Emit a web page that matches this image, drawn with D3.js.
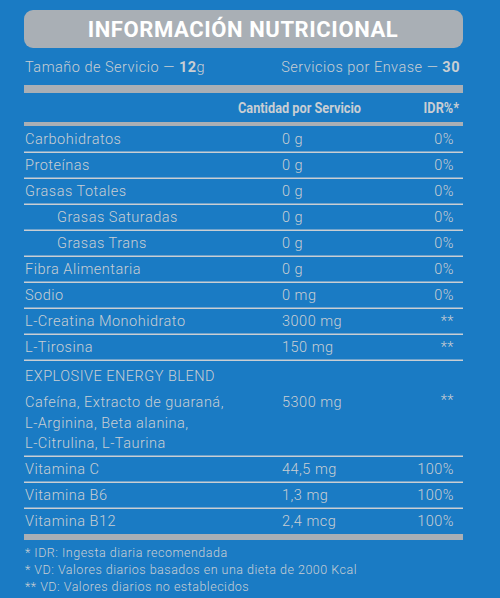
<!DOCTYPE html><html><head><meta charset="utf-8">
<script src="https://d3js.org/d3.v7.min.js"></script>
<style>body{margin:0;background:#1a7bc4}</style></head><body>
<script>
const names=["Carbohidratos","Proteínas","Grasas Totales","Grasas Saturadas","Grasas Trans","Fibra Alimentaria","Sodio","L-Creatina Monohidrato","L-Tirosina"];
const indent=[0,0,0,1,1,0,0,0,0];
const amounts=["0 g","0 g","0 g","0 g","0 g","0 g","0 mg","3000 mg","150 mg"];
const idr=["0%","0%","0%","0%","0%","0%","0%","**","**"];
const blendLines=["Cafeína, Extracto de guaraná,","L-Arginina, Beta alanina,","L-Citrulina, L-Taurina"];
const blendAmount="5300 mg", blendIdr="**";
const vitNames=["Vitamina C","Vitamina B6","Vitamina B12"];
const vitAmounts=["44,5 mg","1,3 mg","2,4 mcg"];
const vitIdr=["100%","100%","100%"];
const notes=["* IDR: Ingesta diaria recomendada","* VD: Valores diarios basados en una dieta de 2000 Kcal","** VD: Valores diarios no establecidos"];

const W=500,H=598,fg="#c9ced3",gr="#a9afb5",F="Roboto, 'DejaVu Sans', sans-serif";
const svg=d3.select("body").append("svg").attr("width",W).attr("height",H);
svg.append("rect").attr("width",W).attr("height",H).attr("fill","#1a7bc4");
svg.append("rect").attr("x",24).attr("y",10).attr("width",439).attr("height",38).attr("rx",9).attr("fill",gr);
svg.append("text").attr("x",243).attr("y",37).attr("text-anchor","middle").attr("fill","#fff")
 .attr("font-family",F).attr("font-weight","bold").attr("font-size",22).attr("letter-spacing",0.6).text("INFORMACIÓN NUTRICIONAL");
const t1=svg.append("text").attr("x",25).attr("y",72).attr("fill",fg).attr("font-family",F).attr("font-weight",300).attr("font-size",14.5).attr("letter-spacing",0.5);
t1.append("tspan").text("Tamaño de Servicio — ");t1.append("tspan").attr("font-weight","bold").text("12");t1.append("tspan").text("g");
const t2=svg.append("text").attr("x",460).attr("y",72).attr("text-anchor","end").attr("fill",fg).attr("font-family",F).attr("font-weight",300).attr("font-size",14.5).attr("letter-spacing",0.5);
t2.append("tspan").text("Servicios por Envase — ");t2.append("tspan").attr("font-weight","bold").text("30");
svg.append("rect").attr("x",24).attr("y",85).attr("width",439).attr("height",8).attr("fill",gr);
svg.append("text").attr("x",238).attr("y",113).attr("fill",fg).attr("font-family",F).attr("font-weight","bold").attr("font-size",15).attr("transform","translate(238,0) scale(0.85,1) translate(-238,0)").text("Cantidad por Servicio");
svg.append("text").attr("x",459).attr("y",113).attr("text-anchor","end").attr("fill",fg).attr("font-family",F).attr("font-weight","bold").attr("font-size",15).attr("transform","translate(459,0) scale(0.85,1) translate(-459,0)").text("IDR%*");
svg.append("rect").attr("x",24).attr("y",122).attr("width",439).attr("height",4).attr("fill",gr);

const y=d3.scaleBand().domain(d3.range(names.length)).range([126,360]);
const g=svg.append("g").attr("font-family",F).attr("font-weight",300).attr("font-size",14.5).attr("letter-spacing",0.5).attr("fill",fg);
const txt=(x,yy,s,anchor)=>g.append("text").attr("x",x).attr("y",yy).attr("text-anchor",anchor||"start").text(s);
const line=(yy,h)=>svg.append("rect").attr("x",24).attr("y",yy).attr("width",439).attr("height",h||1.5).attr("fill",fg);
names.forEach((n,i)=>{const yy=y(i)+y.bandwidth()/2+5;
 txt(25+indent[i]*32,yy,n);txt(282,yy,amounts[i]);txt(454,yy,idr[i],"end");
 if(i<names.length-1)line(y(i)+y.bandwidth()-0.5);});
line(359.5);
txt(25,381,"EXPLOSIVE ENERGY BLEND");
blendLines.forEach((s,i)=>txt(25,407+i*20.5,s));
txt(282,407,blendAmount);txt(454,405,blendIdr,"end");
line(455.5);
const yv=d3.scaleBand().domain(d3.range(vitNames.length)).range([456,534]);
vitNames.forEach((n,i)=>{const yy=yv(i)+yv.bandwidth()/2+5;txt(25,yy,n);txt(282,yy,vitAmounts[i]);txt(454,yy,vitIdr[i],"end");
 if(i<vitNames.length-1)line(yv(i)+yv.bandwidth()-0.5);});
svg.append("rect").attr("x",24).attr("y",534).attr("width",439).attr("height",6).attr("fill",gr);
notes.forEach((s,i)=>svg.append("text").attr("x",25).attr("y",557+i*17).attr("fill",fg).attr("font-family",F).attr("font-weight",300).attr("font-size",12.5).attr("letter-spacing",0.5).text(s));
</script></body></html>
